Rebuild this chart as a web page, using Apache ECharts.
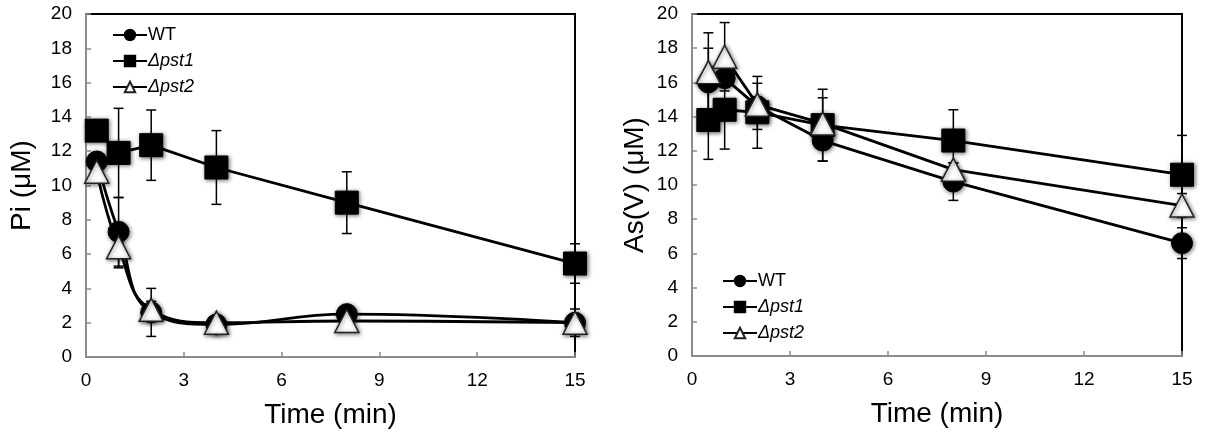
<!DOCTYPE html>
<html>
<head>
<meta charset="utf-8">
<script src="https://cdn.jsdelivr.net/npm/echarts@6/dist/echarts.min.js"></script>
<style>
html,body{margin:0;padding:0;background:#fff;}
#chart{width:1205px;height:439px;}
</style>
</head>
<body>
<div id="chart"></div>
<script>
// ---------- Data ----------
const seriesNames = ['WT', 'Δpst1', 'Δpst2'];
const xTicks = [0, 3, 6, 9, 12, 15];

// Left panel: Pi (µM)
const piTime = [0.33, 1, 2, 4, 8, 15];
const piWT = [11.4, 7.3, 2.6, 1.9, 2.5, 2.0];
const piWTErr = [0.4, 2.0, 1.4, 0.3, 0.3, 0.3];
const piPst1 = [13.2, 11.9, 12.35, 11.05, 9.0, 5.45];
const piPst1Err = [0.5, 2.6, 2.05, 2.15, 1.8, 1.15];
const piPst2 = [10.8, 6.4, 2.75, 2.0, 2.1, 2.0];
const piPst2Err = [0.4, 1.2, 0.5, 0.3, 0.3, 0.8];

// Right panel: As(V) (µM)
const asTime = [0.5, 1, 2, 4, 8, 15];
const asWT = [16.0, 16.25, 14.6, 12.6, 10.2, 6.6];
const asWTErr = [2.0, 0.4, 1.35, 1.2, 1.1, 0.9];
const asPst1 = [13.8, 14.4, 14.25, 13.5, 12.6, 10.6];
const asPst1Err = [2.3, 2.3, 2.1, 2.1, 1.8, 2.3];
const asPst2 = [16.6, 17.5, 14.7, 13.6, 10.9, 8.8];
const asPst2Err = [2.3, 2.0, 0.4, 1.5, 0.4, 0.7];

// ---------- Helpers ----------
const FONT = "'Liberation Sans', Arial, Helvetica, sans-serif";
const AXIS_GRAY = '#8c8c8c';

function pts(t, y) { return t.map((v, i) => [v, y[i]]); }
function errPts(t, y, e) { return t.map((v, i) => [v, y[i] - e[i], y[i] + e[i]]); }

const markerShadow = { shadowBlur: 4, shadowColor: 'rgba(0,0,0,0.55)', shadowOffsetX: 1, shadowOffsetY: 1 };
const styles = {
  'WT': { symbol: 'circle', symbolSize: 21, itemStyle: Object.assign({ color: '#000', borderColor: '#000', borderWidth: 1 }, markerShadow) },
  'Δpst1': { symbol: 'rect', symbolSize: 23, itemStyle: Object.assign({ color: '#000', borderColor: '#000', borderWidth: 1 }, markerShadow) },
  'Δpst2': { symbol: 'triangle', symbolSize: [24, 23], itemStyle: Object.assign({ color: '#fff', borderColor: '#222', borderWidth: 1.5 }, markerShadow) }
};

function lineSeries(name, idx, data, smooth) {
  const s = styles[name];
  return {
    name: name, type: 'line', xAxisIndex: idx, yAxisIndex: idx,
    data: data, smooth: smooth, symbol: s.symbol, symbolSize: s.symbolSize,
    itemStyle: s.itemStyle, lineStyle: { color: '#000', width: 2.8 },
    z: 3, animation: false, emphasis: { disabled: true }
  };
}

function errSeries(idx, data) {
  return {
    type: 'custom', xAxisIndex: idx, yAxisIndex: idx, data: data, z: 2, animation: false, silent: true,
    renderItem: function (params, api) {
      const x = api.value(0);
      const lo = api.coord([x, api.value(1)]);
      const hi = api.coord([x, api.value(2)]);
      const w = 5;
      const st = { stroke: '#000', lineWidth: 1.5 };
      return {
        type: 'group',
        children: [
          { type: 'line', shape: { x1: hi[0], y1: hi[1], x2: lo[0], y2: lo[1] }, style: st },
          { type: 'line', shape: { x1: hi[0] - w, y1: hi[1], x2: hi[0] + w, y2: hi[1] }, style: st },
          { type: 'line', shape: { x1: lo[0] - w, y1: lo[1], x2: lo[0] + w, y2: lo[1] }, style: st }
        ]
      };
    }
  };
}

function xAxis(idx) {
  return {
    type: 'value', gridIndex: idx, min: 0, max: 15, interval: 3,
    name: 'Time (min)', nameLocation: 'middle', nameGap: 44,
    nameTextStyle: { fontFamily: FONT, fontSize: 28, color: '#000' },
    axisLine: { show: true, lineStyle: { color: AXIS_GRAY, width: 2 } },
    axisTick: { show: true, inside: true, length: 5, lineStyle: { color: AXIS_GRAY, width: 1.5 } },
    axisLabel: { fontFamily: FONT, fontSize: 19, color: '#000', margin: 14,
      formatter: v => xTicks.indexOf(v) >= 0 ? String(v) : '' },
    splitLine: { show: false }
  };
}
function yAxis(idx, name, gap) {
  return {
    type: 'value', gridIndex: idx, min: 0, max: 20, interval: 2,
    name: name, nameLocation: 'middle', nameGap: gap, nameRotate: 90,
    nameTextStyle: { fontFamily: FONT, fontSize: 28, color: '#000' },
    axisLine: { show: true, lineStyle: { color: AXIS_GRAY, width: 2 } },
    axisTick: { show: true, inside: true, length: 5, lineStyle: { color: AXIS_GRAY, width: 1.5 } },
    axisLabel: { fontFamily: FONT, fontSize: 19, color: '#000', margin: 14 },
    splitLine: { show: false }
  };
}

function legend(left, top) {
  return {
    left: left, top: top, orient: 'vertical', itemWidth: 34, itemHeight: 13, itemGap: 8,
    data: seriesNames, selectedMode: false,
    formatter: n => n === 'WT' ? n : '{i|' + n + '}',
    textStyle: { fontFamily: FONT, fontSize: 18, color: '#000', padding: [0, 0, 0, -4],
      rich: { i: { fontFamily: FONT, fontSize: 18, fontStyle: 'italic', color: '#000' } } }
  };
}

const option = {
  backgroundColor: '#fff',
  animation: false,
  grid: [
    { left: 86, top: 14, width: 489, height: 343, show: true, borderColor: '#000', borderWidth: 2, backgroundColor: 'transparent' },
    { left: 692, top: 14, width: 490, height: 342, show: true, borderColor: '#000', borderWidth: 2, backgroundColor: 'transparent' }
  ],
  xAxis: [xAxis(0), xAxis(1)],
  yAxis: [yAxis(0, 'Pi (μM)', 50), yAxis(1, 'As(V) (μM)', 43)],
  legend: [legend(107, 21), legend(717, 267)],
  series: [
    errSeries(0, errPts(piTime, piWT, piWTErr)),
    errSeries(0, errPts(piTime, piPst1, piPst1Err)),
    errSeries(0, errPts(piTime, piPst2, piPst2Err)),
    lineSeries('WT', 0, pts(piTime, piWT), 0.45),
    lineSeries('Δpst1', 0, pts(piTime, piPst1), false),
    lineSeries('Δpst2', 0, pts(piTime, piPst2), 0.45),
    errSeries(1, errPts(asTime, asWT, asWTErr)),
    errSeries(1, errPts(asTime, asPst1, asPst1Err)),
    errSeries(1, errPts(asTime, asPst2, asPst2Err)),
    lineSeries('WT', 1, pts(asTime, asWT), false),
    lineSeries('Δpst1', 1, pts(asTime, asPst1), false),
    lineSeries('Δpst2', 1, pts(asTime, asPst2), false)
  ]
};

const chart = echarts.init(document.getElementById('chart'), null, { renderer: 'canvas' });
chart.setOption(option);
</script>
</body>
</html>
